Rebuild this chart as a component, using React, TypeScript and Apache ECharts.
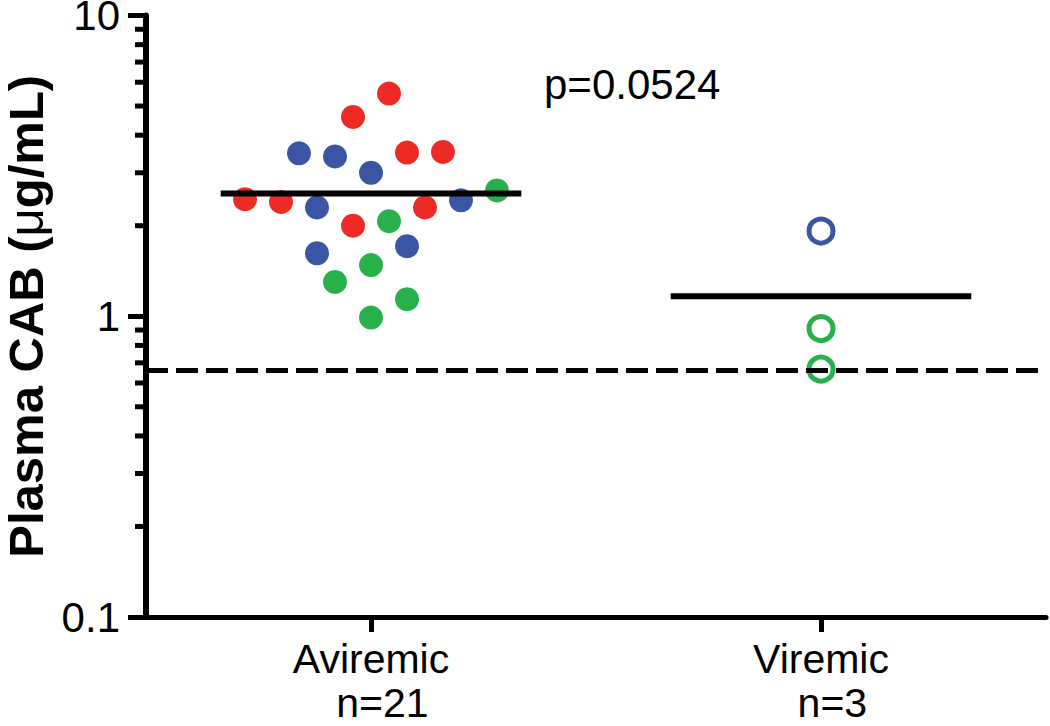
import React, { useEffect, useRef } from "react";
import * as echarts from "echarts";

// ---- data ----
const categories = ["Aviremic", "Viremic"];
const groupSizes = [21, 3];
const yMinorTicks = [0.2, 0.3, 0.4, 0.5, 0.6, 0.7, 0.8, 0.9, 2, 3, 4, 5, 6, 7, 8, 9];
// [horizontal jitter offset from group centre, plasma CAB value]
const aviremicRed = [[0.04, 5.5], [-0.04, 4.6], [0.08, 3.5], [0.16, 3.52], [-0.28, 2.45], [-0.2, 2.4], [0.12, 2.3], [-0.04, 2.0]];
const aviremicBlue = [[-0.16, 3.48], [-0.08, 3.4], [0, 3.0], [-0.12, 2.3], [0.2, 2.43], [-0.12, 1.62], [0.08, 1.71]];
const aviremicGreen = [[0.28, 2.62], [0.04, 2.07], [0, 1.48], [-0.08, 1.3], [0.08, 1.14], [0, 0.99]];
const viremicBlue = [[0, 1.92]];
const viremicGreen = [[0, 0.91], [0, 0.667]];
const meanValues = [2.56, 1.165];
const meanHalfWidth = 0.334;
const lloq = 0.66;
const pValueText = "p=0.0524";

const RED = "#ED2A24";
const BLUE = "#3B55A5";
const GREEN = "#28B04A";
const FONT = "'Liberation Sans', Arial, Helvetica, sans-serif";

export default function App() {
  const ref = useRef<HTMLDivElement>(null);
  useEffect(() => {
    const chart = echarts.init(ref.current as HTMLDivElement, null, { renderer: "svg" });
    const place = (g: number, data: number[][]) => data.map((d) => [g + 1 + d[0], d[1]]);
    const scatter = (name: string, g: number, data: number[][], color: string, hollow: boolean) => ({
      type: "scatter",
      name,
      data: place(g, data),
      symbol: "circle",
      symbolSize: 24,
      itemStyle: hollow
        ? { color: "rgba(0,0,0,0)", borderColor: color, borderWidth: 5, opacity: 1 }
        : { color, opacity: 1 },
      z: 3,
      silent: true,
    });
    const meanLine = (g: number) => ({
      type: "line",
      data: [
        [g + 1 - meanHalfWidth, meanValues[g]],
        [g + 1 + meanHalfWidth, meanValues[g]],
      ],
      symbol: "none",
      lineStyle: { color: "#000", width: 6, cap: "butt" },
      z: 5,
      silent: true,
    });
    chart.setOption({
      animation: false,
      grid: { left: 146, right: 4, top: 15.5, bottom: 109, containLabel: false, outerBoundsMode: "none" },
      xAxis: {
        type: "value",
        min: 0.5,
        max: 2.5,
        interval: 0.5,
        splitLine: { show: false },
        axisLine: { show: true, lineStyle: { color: "#000", width: 5 } },
        axisTick: { show: true, customValues: [1, 2], length: 15, lineStyle: { color: "#000", width: 5 } },
        axisLabel: {
          customValues: [1, 2],
          formatter: (v: number) => {
            const i = Math.round(v) - 1;
            return categories[i] + "\n  n=" + groupSizes[i];
          },
          margin: 20,
          fontSize: 41,
          lineHeight: 44,
          color: "#000",
          fontFamily: FONT,
        },
      },
      yAxis: {
        type: "log",
        logBase: 10,
        min: 0.1,
        max: 10,
        splitLine: { show: false },
        axisLine: { show: true, lineStyle: { color: "#000", width: 6 } },
        axisTick: { show: true, length: 18, lineStyle: { color: "#000", width: 5 } },
        axisLabel: { fontSize: 42, lineHeight: 30, color: "#000", margin: 26, fontFamily: FONT, formatter: (v: number) => String(v) },
        name: "{b|Plasma CAB (}{m|μ}{b|g/mL)}",
        nameLocation: "middle",
        nameGap: 89,
        nameTextStyle: {
          lineHeight: 46,
          rich: {
            b: { fontSize: 49, lineHeight: 46, fontWeight: "bold", fontFamily: FONT, color: "#000" },
            m: { fontSize: 49, lineHeight: 46, fontWeight: "normal", fontFamily: FONT, color: "#000" },
          },
        },
      },
      graphic: [
        {
          type: "text",
          left: 544,
          top: 63,
          style: { text: pValueText, fontSize: 42, fontFamily: FONT, fill: "#000" },
        },
      ],
      series: [
        {
          type: "custom",
          coordinateSystem: "cartesian2d",
          clip: false,
          silent: true,
          data: yMinorTicks.map((v) => [0.5, v]),
          renderItem: (_params: any, api: any) => {
            const p = api.coord([0.5, api.value(1)]);
            return {
              type: "line",
              shape: { x1: p[0] - 11, y1: p[1], x2: p[0], y2: p[1] },
              style: { stroke: "#000", lineWidth: 5 },
            };
          },
          z: 2,
        },
        {
          type: "line",
          data: [],
          z: 1,
          silent: true,
          markLine: {
            silent: true,
            symbol: ["none", "none"],
            label: { show: false },
            lineStyle: { color: "#000", width: 5, type: [22, 8] },
            data: [{ yAxis: lloq }],
          },
        },
        scatter("Aviremic red", 0, aviremicRed, RED, false),
        scatter("Aviremic blue", 0, aviremicBlue, BLUE, false),
        scatter("Aviremic green", 0, aviremicGreen, GREEN, false),
        scatter("Viremic blue", 1, viremicBlue, BLUE, true),
        scatter("Viremic green", 1, viremicGreen, GREEN, true),
        meanLine(0),
        meanLine(1),
      ],
    });
    return () => chart.dispose();
  }, []);
  return (
    <div
      ref={ref}
      style={{ position: "fixed", left: 0, top: 0, width: 1050, height: 726, background: "#fff" }}
    />
  );
}
